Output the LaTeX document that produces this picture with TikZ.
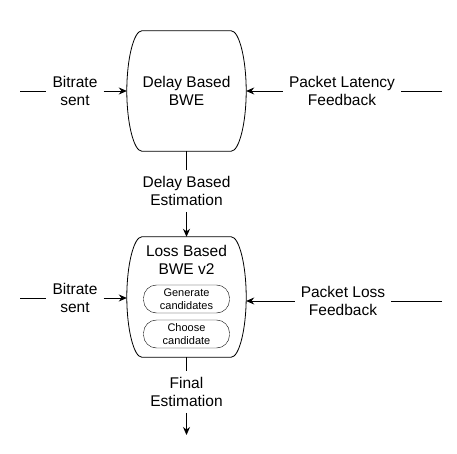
\documentclass[tikz,border=0pt]{standalone}
\usepackage{fontspec}
\setmainfont{Liberation Sans}
\usepackage{tikz}
\usetikzlibrary{arrows.meta, calc}
\tikzset{
    bwebox/.style={minimum width=119pt, minimum height=120pt, inner sep=0pt},
    flowtext/.style={font=\fontsize{15.5}{18}\selectfont, align=center, inner sep=6pt},
    stepbox/.style={draw, rounded corners=13pt, minimum width=86pt, minimum height=28pt,
        inner sep=1pt, font=\fontsize{11}{12.5}\selectfont, align=center},
    wire/.style={draw=black, line width=0.8pt},
    flow/.style={wire, -{Stealth[length=8pt, width=7pt]}}
}
% barrel outline round a bwebox node
\newcommand\barrelshape[1]{%
    \draw[wire] ($(#1.north west)+(15,0)$) -- ($(#1.north east)+(-15,0)$)
        .. controls +(8,0) and ($(#1.east)+(0,-32)$) .. (#1.east)
        .. controls ($(#1.east)+(0,32)$) and ($(#1.south east)+(-7,0)$) .. ($(#1.south east)+(-15,0)$)
        -- ($(#1.south west)+(15,0)$)
        .. controls +(-8,0) and ($(#1.west)+(0,32)$) .. (#1.west)
        .. controls ($(#1.west)+(0,-32)$) and ($(#1.north west)+(7,0)$) .. cycle;}

\begin{document}
\begin{tikzpicture}[x=1pt, y=-1pt]
    \useasboundingbox (0,0) rectangle (457,454);

    % estimators
    \node[bwebox, flowtext] (delay) at (186.5,91) {Delay Based\\BWE};
    \barrelshape{delay}
    \node[bwebox] (loss) at (186.5,297) {};
    \barrelshape{loss}
    \node[flowtext] (losstitle) at (186.5,260) {Loss Based\\BWE v2};
    \node[stepbox] (generate) at (186.5,299) {Generate\\candidates};
    \node[stepbox] (choose) at (186.5,334) {Choose\\candidate};

    % inputs
    \coordinate (rateA) at (20,91);
    \coordinate (latency) at (442,91);
    \coordinate (rateB) at (20,298);
    \coordinate (lossfb) at (442,301);
    \coordinate (finalend) at (186.5,435);

    \node[flowtext] (bitrateA) at (75,91) {Bitrate\\sent};
    \node[flowtext] (latencylabel) at (342,91) {Packet Latency\\Feedback};
    \node[flowtext] (bitrateB) at (75,298) {Bitrate\\sent};
    \node[flowtext] (losslabel) at (343,301) {Packet Loss\\Feedback};
    \node[flowtext] (delayest) at (186.5,191) {Delay Based\\Estimation};
    \node[flowtext] (finalest) at (186.5,392) {Final\\Estimation};

    % connectors
    \draw[wire] (rateA) -- (bitrateA);
    \draw[flow] (bitrateA) -- (delay.west);
    \draw[wire] (latency) -- (latencylabel);
    \draw[flow] (latencylabel) -- (delay.east);
    \draw[wire] (rateB) -- (bitrateB);
    \draw[flow] (bitrateB) -- (bitrateB -| loss.west);
    \draw[wire] (lossfb) -- (losslabel);
    \draw[flow] (losslabel) -- (losslabel -| loss.east);
    \draw[wire] (delay) -- (delayest);
    \draw[flow] (delayest) -- (loss);
    \draw[wire] (loss) -- (finalest);
    \draw[flow] (finalest) -- (finalend);
\end{tikzpicture}
\end{document}
